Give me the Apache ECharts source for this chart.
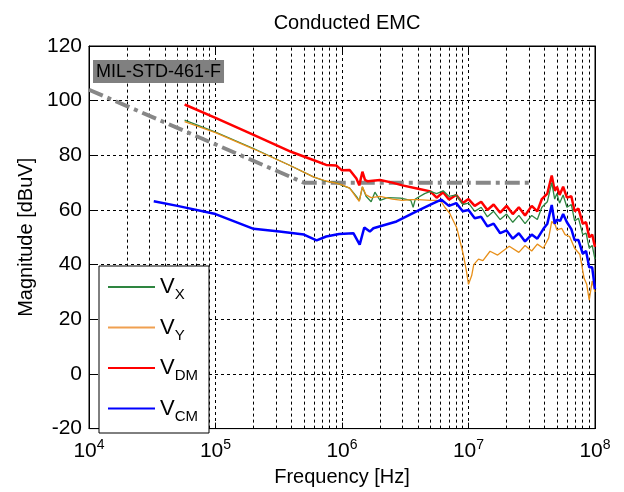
<!DOCTYPE html>
<html>
<head>
<meta charset="utf-8">
<script src="https://cdn.jsdelivr.net/npm/echarts@6/dist/echarts.min.js"></script>
<style>
  html, body { margin: 0; padding: 0; background: #fff; }
  #chart { width: 624px; height: 492px; }
</style>
</head>
<body>
<div id="chart"></div>
<script>
// limit line (MIL-STD-461-F)
const limitFreq = [1e4, 5e5, 3e7]
const limitMag = [104, 70, 70]

// V_DM
const dmFreq = [5.7e4, 1e5, 2e5, 4e5, 6e5, 7.5e5, 9e5, 1e6, 1.15e6, 1.3e6, 1.37e6, 1.45e6, 1.52e6, 1.6e6, 2e6, 2.5e6, 3e6, 4e6, 5e6,
  5.6e6, 6.3e6, 7e6, 8e6, 9e6, 1e7, 1.12e7, 1.26e7, 1.41e7, 1.58e7, 1.78e7, 2e7, 2.24e7, 2.5e7, 2.8e7, 3.16e7, 3.5e7, 3.8e7,
  4.2e7, 4.55e7, 4.8e7, 5e7, 5.25e7, 5.6e7, 6e7, 6.5e7, 6.9e7, 7.4e7, 8e7, 8.5e7, 9e7, 9.5e7, 1e8]
const dmMag = [98.6, 93.7, 87.5, 81.2, 78.2, 76.5, 76.3, 74.5, 74.6, 71.5, 69, 74, 71, 70.5, 71, 70, 69, 67.8, 66.8,
  64.5, 66.5, 63.8, 65.5, 62.5, 64, 61.5, 63, 60, 62, 59, 61.5, 58.5, 61, 58, 61.5, 59.5, 64,
  66, 72.6, 67, 68.5, 65.5, 68.5, 64.5, 65, 59.5, 60.5, 55, 55.5, 50, 51, 46.5]

// V_X
const xFreq = [5.7e4, 1e5, 2e5, 4e5, 6e5, 7.5e5, 9e5, 1e6, 1.15e6, 1.3e6, 1.37e6, 1.45e6, 1.55e6, 1.7e6, 1.82e6, 2e6, 2.3e6, 2.9e6,
  3.5e6, 3.65e6, 3.8e6, 4.5e6, 5e6, 5.6e6, 6.3e6, 7e6, 8e6, 9e6, 1e7, 1.12e7, 1.26e7, 1.41e7, 1.58e7, 1.78e7, 2e7, 2.24e7,
  2.5e7, 2.8e7, 3.16e7, 3.5e7, 3.8e7, 4.2e7, 4.55e7, 4.8e7, 5e7, 5.25e7, 5.6e7, 6e7, 6.5e7, 6.9e7, 7.4e7, 8e7, 8.5e7, 9e7, 9.5e7, 1e8]
const xMag = [92.9, 88.5, 82.5, 76, 72, 70.5, 70, 69, 68, 65, 63.3, 68.4, 65, 63, 66.5, 63.5, 64.5, 64.3,
  63.5, 61, 64, 66, 66.8, 66, 67, 65, 65.5, 62, 62.5, 59.5, 61, 57.5, 59.5, 56.5, 58.5, 55.5,
  58, 55, 58, 56.5, 61, 63, 70, 64, 66, 62.5, 65.5, 61, 62, 56, 57, 51, 51.5, 46, 47, 42]

// V_Y
const yFreq = [5.7e4, 1e5, 2e5, 4e5, 6e5, 7.5e5, 9e5, 1e6, 1.15e6, 1.3e6, 1.37e6, 1.45e6, 1.55e6, 1.7e6, 2e6, 2.5e6, 3e6, 3.5e6,
  4e6, 5e6, 5.6e6, 6.1e6, 6.5e6, 7.1e6, 8.1e6, 9.1e6, 9.6e6, 1e7, 1.06e7, 1.1e7, 1.2e7, 1.3e7, 1.48e7, 1.7e7, 2.1e7, 2.5e7,
  2.8e7, 3.16e7, 3.5e7, 3.9e7, 4.3e7, 4.55e7, 4.85e7, 5e7, 5.45e7, 5.8e7, 6.3e7, 6.9e7, 7.6e7, 8.2e7, 8.6e7, 9e7, 9.5e7, 1e8]
const yMag = [92.3, 88.3, 82.3, 76, 72, 70.6, 69.8, 69.2, 68, 64.5, 63.2, 68.5, 65.5, 64.5, 65, 64, 63.5, 63.8,
  63.8, 63.5, 63.5, 63, 61, 58.8, 53.3, 43.7, 38, 32.8, 36, 40, 42, 41.5, 44.9, 43.5, 46.7, 44.5,
  47, 45, 47.5, 46, 49.7, 55.8, 54.5, 52.7, 53.3, 51, 50.3, 46, 43.7, 35, 32.8, 27, 34, 30]

// V_CM
const cmFreq = [3.25e4, 5e4, 1e5, 2e5, 3.2e5, 5e5, 6.3e5, 7.5e5, 9.5e5, 1.23e6, 1.38e6, 1.5e6, 1.66e6, 1.77e6, 2.7e6, 4.1e6, 5.25e6,
  6.1e6, 7e6, 8e6, 9e6, 1e7, 1.12e7, 1.26e7, 1.41e7, 1.58e7, 1.78e7, 2e7, 2.24e7, 2.5e7, 2.8e7, 3.16e7, 3.5e7, 3.9e7, 4.2e7,
  4.55e7, 4.8e7, 5e7, 5.3e7, 5.6e7, 6e7, 6.5e7, 6.9e7, 7.4e7, 8e7, 8.5e7, 9e7, 9.5e7, 1e8]
const cmMag = [63.2, 61.5, 58.5, 53.1, 52.1, 51, 48.9, 50.3, 51.2, 51.5, 47.3, 53.6, 52.1, 53.3, 55.8, 60, 62.4,
  63.8, 61.5, 62.5, 59.5, 60, 57, 57.5, 54, 55, 51.5, 52.5, 49.5, 51.5, 48.5, 51, 49.5, 53, 55,
  61.8, 55, 56.5, 56, 58.5, 55.5, 53, 49, 49, 44, 45, 39, 39, 31]

const yTicks = { min: -20, max: 120, interval: 20 }

const zip = (f, m) => f.map((v, i) => [v, m[i]])

// minor grid lines of the log axis (2..9 x 10^n)
const minorLines = []
for (let n = 4; n < 8; n++) {
  for (let k = 2; k <= 9; k++) minorLines.push({ xAxis: k * Math.pow(10, n) })
}

const chart = echarts.init(document.getElementById('chart'))
const font = 'Liberation Sans, Arial, sans-serif'
const gridDash = { color: '#000', width: 1, type: [3, 3] }

chart.setOption({
  animation: false,
  textStyle: { fontFamily: font },
  title: {
    text: 'Conducted EMC',
    left: 342,
    textAlign: 'center',
    top: 8,
    textStyle: { fontSize: 20, fontWeight: 'normal', color: '#000', fontFamily: font }
  },
  grid: {
    left: 89, right: 29, top: 46, bottom: 59,
    show: true, borderColor: '#000', borderWidth: 1, backgroundColor: '#fff'
  },
  legend: {
    data: [
      { name: 'VX', icon: 'rect', itemStyle: { color: '#2E8540' }, lineStyle: { width: 1.5 } },
      { name: 'VY', icon: 'rect', itemStyle: { color: '#F0A050' }, lineStyle: { width: 1.5 } },
      { name: 'VDM', icon: 'rect', itemStyle: { color: '#FF0000' }, lineStyle: { width: 3 } },
      { name: 'VCM', icon: 'rect', itemStyle: { color: '#0000FF' }, lineStyle: { width: 3 } }
    ],
    orient: 'vertical',
    left: 99,
    top: 266,
    padding: [8, 11, 9, 9],
    itemWidth: 47,
    itemHeight: 2,
    itemGap: 12,
    backgroundColor: '#fff',
    borderColor: '#000',
    borderWidth: 1,
    borderRadius: 0,
    z: 10,
    formatter: (name) => 'V{sub|' + name.slice(1) + '}',
    textStyle: {
      fontSize: 22, color: '#000', fontFamily: font, lineHeight: 26,
      rich: { sub: { fontSize: 15, color: '#000', fontFamily: font, padding: [16, 0, 0, 0] } }
    }
  },
  xAxis: [{
    type: 'log',
    logBase: 10,
    min: 1e4,
    max: 1e8,
    name: 'Frequency [Hz]',
    nameLocation: 'middle',
    nameGap: 26,
    nameTextStyle: { fontSize: 20, color: '#000', fontFamily: font },
    axisLine: { onZero: false, lineStyle: { color: '#000' } },
    axisTick: { inside: true, length: 6, lineStyle: { color: '#000' } },
    axisLabel: {
      color: '#000', fontSize: 21, margin: 10, fontFamily: font,
      formatter: (v) => '10{sup|' + Math.round(Math.log10(v)) + '}',
      rich: { sup: { fontSize: 14, color: '#000', fontFamily: font, padding: [0, 0, 12, 0] } }
    },
    splitLine: { show: true, lineStyle: gridDash }
  }, {
    type: 'log', logBase: 10, min: 1e4, max: 1e8, position: 'top',
    axisLine: { onZero: false, lineStyle: { color: '#000' } },
    axisTick: { inside: true, length: 6, lineStyle: { color: '#000' } },
    axisLabel: { show: false },
    splitLine: { show: false }
  }],
  yAxis: [{
    type: 'value',
    min: yTicks.min, max: yTicks.max, interval: yTicks.interval,
    name: 'Magnitude [dBuV]',
    nameLocation: 'middle',
    nameGap: 53,
    nameTextStyle: { fontSize: 20, color: '#000', fontFamily: font },
    axisLine: { show: true, onZero: false, lineStyle: { color: '#000' } },
    axisTick: { show: true, inside: true, length: 6, lineStyle: { color: '#000' } },
    axisLabel: { color: '#000', fontSize: 21, margin: 7, fontFamily: font },
    splitLine: { show: true, lineStyle: gridDash }
  }, {
    type: 'value', position: 'right',
    min: yTicks.min, max: yTicks.max, interval: yTicks.interval,
    axisLine: { show: true, onZero: false, lineStyle: { color: '#000' } },
    axisTick: { show: true, inside: true, length: 6, lineStyle: { color: '#000' } },
    axisLabel: { show: false },
    splitLine: { show: false }
  }],
  graphic: [{
    type: 'text',
    left: 93,
    top: 60,
    z: 10,
    style: {
      text: 'MIL-STD-461-F',
      fontSize: 18,
      fontFamily: font,
      fill: '#000',
      backgroundColor: '#808080',
      padding: [3, 3, 2, 3]
    }
  }],
  series: [
    {
      name: 'limit',
      type: 'line',
      data: zip(limitFreq, limitMag),
      symbol: 'none',
      silent: true,
      z: 3,
      lineStyle: { color: '#878787', width: 4, type: [15, 5, 4, 5] },
      markLine: {
        silent: true,
        symbol: 'none',
        label: { show: false },
        lineStyle: gridDash,
        z: 1,
        data: minorLines
      }
    },
    {
      name: 'VX', type: 'line', data: zip(xFreq, xMag), symbol: 'none',
      lineStyle: { color: '#2E8540', width: 1.3 }, itemStyle: { color: '#2E8540' }, z: 4
    },
    {
      name: 'VY', type: 'line', data: zip(yFreq, yMag), symbol: 'none',
      lineStyle: { color: '#E8901A', width: 1.3 }, itemStyle: { color: '#E8901A' }, z: 4
    },
    {
      name: 'VDM', type: 'line', data: zip(dmFreq, dmMag), symbol: 'none',
      lineStyle: { color: '#FF0000', width: 2.5 }, itemStyle: { color: '#FF0000' }, z: 3
    },
    {
      name: 'VCM', type: 'line', data: zip(cmFreq, cmMag), symbol: 'none',
      lineStyle: { color: '#0000FF', width: 2.5 }, itemStyle: { color: '#0000FF' }, z: 4
    }
  ]
})
</script>
</body>
</html>
